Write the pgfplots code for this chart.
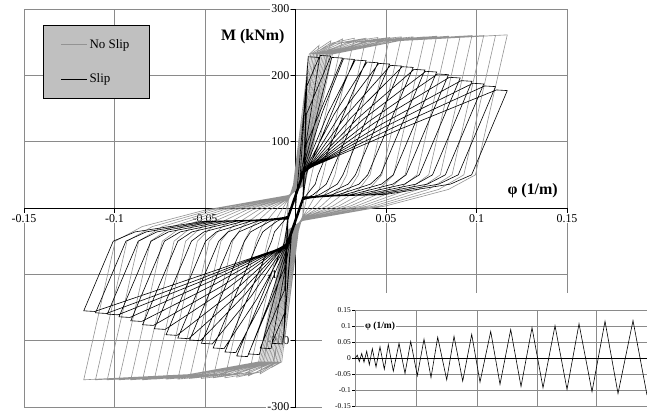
\documentclass[border=0pt]{standalone}
\usepackage{pgfplots}
\pgfplotsset{compat=1.18}
\usepackage{fontspec}
\setmainfont{Liberation Serif}
\definecolor{noslip}{HTML}{939393}
\definecolor{legfill}{HTML}{C0C0C0}
\definecolor{gridc}{HTML}{8A8A8A}
\begin{document}
\begin{tikzpicture}[x=1bp,y=1bp]
\begin{axis}[
  at={(0,0)}, anchor=south west,
  scale only axis, width=543bp, height=398bp,
  set layers=standard,
  xmin=-0.15, xmax=0.15, ymin=-300, ymax=300,
  axis lines=middle, axis line style={-, black, line width=0.8bp},
  enlargelimits=false, clip=false,
  xtick={-0.15,-0.1,-0.05,0,0.05,0.1,0.15},
  xticklabels={-0.15,-0.1,-0.05,,0.05,0.1,0.15},
  ytick={-300,-200,-100,0,100,200,300},
  yticklabels={-300,-200,-100,,100,200,300},
  grid=major, grid style={draw=gridc, line width=0.7bp},
  tick align=outside, major tick length=5bp,
  tick style={black, line width=0.7bp},
  tick label style={font=\fontsize{12}{14}\selectfont, fill=white, inner sep=1bp},
  legend style={at={(axis cs:-0.1395,276)}, anchor=north west, draw=black, line width=0.8bp,
    fill=legfill, font=\fontsize{13}{15}\selectfont, inner xsep=17.5bp, inner ysep=12bp,
    row sep=20bp, nodes={inner sep=2bp}},
  legend cell align=left,
  legend image code/.code={\draw[#1] (0bp,0bp) -- (26bp,0bp);},
]
\addplot[noslip, line width=0.6bp, mark=none] coordinates {
(0,0) (0.0065,215)
(0.004,-11) (0.0016,-35) (-0.0065,-210)
(-0.004,11) (-0.0012,35) (0.0076,232) (0.013,245)
(0.006,161) (0.004,-11) (0.0012,-35) (-0.0076,-232) (-0.013,-240)
(-0.006,-156) (-0.004,11) (-0.0008,35) (0.0084,232) (0.0195,252)
(0.006,90) (0.004,-12) (0.0008,-35) (-0.0084,-232) (-0.0195,-250)
(-0.006,-88) (-0.004,12) (-0.0004,35) (0.0092,232) (0.026,255)
(0.0089,50) (0.004,-12) (0.0004,-35) (-0.0092,-232) (-0.026,-253)
(-0.0091,-50) (-0.004,12) (0,35) (0.01,232) (0.019,248) (0.0325,256)
(0.0153,50) (0.013,28) (0.0077,3) (0.004,-13) (0,-35) (-0.01,-232) (-0.019,-247) (-0.0325,-255)
(-0.0154,-50) (-0.0131,-28) (-0.0077,-3) (-0.004,13) (0.0004,35) (0.0108,232) (0.0221,248) (0.039,256)
(0.0218,50) (0.0185,28) (0.0109,3) (0.004,-13) (-0.0004,-35) (-0.0108,-232) (-0.0221,-248) (-0.039,-256)
(-0.0218,-50) (-0.0185,-28) (-0.0109,-3) (-0.004,13) (0.0008,35) (0.0116,232) (0.0252,249) (0.0455,257)
(0.0283,50) (0.0241,28) (0.0142,3) (0.004,-14) (-0.0008,-35) (-0.0116,-232) (-0.0252,-248) (-0.0455,-256)
(-0.0283,-50) (-0.0241,-28) (-0.0142,-3) (-0.004,14) (0.0012,35) (0.0124,232) (0.0282,249) (0.052,257)
(0.0348,50) (0.0296,28) (0.0174,3) (0.004,-14) (-0.0012,-35) (-0.0124,-232) (-0.0282,-249) (-0.052,-257)
(-0.0347,-50) (-0.0295,-28) (-0.0174,-3) (-0.004,14) (0.0016,35) (0.0132,232) (0.0313,250) (0.0585,258)
(0.0412,50) (0.035,28) (0.0206,3) (0.004,-15) (-0.0016,-35) (-0.0132,-232) (-0.0313,-249) (-0.0585,-257)
(-0.0412,-50) (-0.035,-28) (-0.0206,-3) (-0.004,15) (0.002,35) (0.014,232) (0.0344,250) (0.065,258)
(0.0477,50) (0.0405,28) (0.0239,3) (0.004,-15) (-0.002,-35) (-0.014,-232) (-0.0344,-250) (-0.065,-258)
(-0.0477,-50) (-0.0405,-28) (-0.0239,-3) (-0.004,15) (0.0024,35) (0.0148,232) (0.0375,250) (0.0715,258)
(0.0542,50) (0.0461,28) (0.0271,3) (0.004,-16) (-0.0024,-35) (-0.0148,-232) (-0.0375,-250) (-0.0715,-258)
(-0.0542,-50) (-0.0461,-28) (-0.0271,-3) (-0.004,16) (0.0028,35) (0.0156,232) (0.0406,251) (0.078,259)
(0.0606,50) (0.0515,28) (0.0303,3) (0.004,-16) (-0.0028,-35) (-0.0156,-232) (-0.0406,-250) (-0.078,-258)
(-0.0607,-50) (-0.0516,-28) (-0.0304,-3) (-0.004,16) (0.0032,35) (0.0164,232) (0.0436,251) (0.0845,259)
(0.0671,50) (0.057,28) (0.0336,3) (0.004,-17) (-0.0032,-35) (-0.0164,-232) (-0.0436,-251) (-0.0845,-259)
(-0.0671,-50) (-0.057,-28) (-0.0336,-3) (-0.004,17) (0.0036,35) (0.0172,232) (0.0467,251) (0.091,259)
(0.0736,50) (0.0626,28) (0.0368,3) (0.004,-17) (-0.0036,-35) (-0.0172,-232) (-0.0467,-251) (-0.091,-259)
(-0.0736,-50) (-0.0626,-28) (-0.0368,-3) (-0.004,17) (0.004,35) (0.018,232) (0.0498,252) (0.0975,260)
(0.08,50) (0.068,28) (0.04,3) (0.004,-18) (-0.004,-35) (-0.018,-232) (-0.0498,-251) (-0.0975,-259)
(-0.0801,-50) (-0.0681,-28) (-0.0401,-3) (-0.004,18) (0.0044,35) (0.0188,232) (0.0529,252) (0.104,260)
(0.0865,50) (0.0735,28) (0.0433,3) (0.004,-18) (-0.0044,-35) (-0.0188,-232) (-0.0529,-251) (-0.104,-259)
(-0.0866,-50) (-0.0736,-28) (-0.0433,-3) (-0.004,18) (0.0048,35) (0.0196,232) (0.056,252) (0.1105,260)
(0.093,50) (0.0791,28) (0.0465,3) (0.004,-19) (-0.0048,-35) (-0.0196,-232) (-0.056,-251) (-0.1105,-259)
(-0.0931,-50) (-0.0791,-28) (-0.0466,-3) (-0.004,19) (0.0052,35) (0.0204,232) (0.059,253) (0.117,261)
(0.0994,50) (0.0845,28) (0.0497,3) (0.004,-19) (-0.0052,-35) (-0.0204,-232) (-0.059,-251) (-0.117,-259)
(-0.0996,-50) (-0.0847,-28) (-0.0498,-3) (-0.004,19)
};
\addlegendentry{No Slip}
\addplot[black, line width=0.6bp, mark=none] coordinates {
(0,0) (0.0065,205)
(0.004,9) (-0.0022,-41) (-0.0065,-195)
(-0.004,-9) (0.0024,42) (0.007,228) (0.013,227)
(0.006,182) (0.004,9) (-0.0024,-42) (-0.007,-205) (-0.013,-204)
(-0.006,-158) (-0.004,-9) (0.0026,43) (0.0135,230) (0.0195,229)
(0.006,141) (0.004,10) (-0.0026,-43) (-0.0135,-212) (-0.0195,-211)
(-0.006,-123) (-0.004,-10) (0.0028,44) (0.02,227) (0.026,226)
(0.006,96) (0.004,10) (-0.0028,-44) (-0.02,-221) (-0.026,-220)
(-0.006,-90) (-0.004,-10) (0.003,45) (0.0148,144) (0.0265,225) (0.0325,224)
(0.006,52) (0.004,11) (-0.003,-45) (-0.0148,-143) (-0.0265,-224) (-0.0325,-223)
(-0.006,-51) (-0.004,-11) (0.0032,46) (0.018,143) (0.033,223) (0.039,222)
(0.0124,50) (0.0109,36) (0.0062,20) (0.004,11) (-0.0032,-46) (-0.018,-140) (-0.033,-218) (-0.039,-217)
(-0.0132,-50) (-0.0116,-36) (-0.0066,-20) (-0.004,-11) (0.0034,47) (0.0213,141) (0.0395,220) (0.0455,219)
(0.0193,50) (0.017,36) (0.0097,20) (0.004,12) (-0.0034,-47) (-0.0213,-137) (-0.0395,-212) (-0.0455,-211)
(-0.0206,-50) (-0.0181,-36) (-0.0103,-20) (-0.004,-12) (0.0036,48) (0.0245,140) (0.046,218) (0.052,217)
(0.0262,50) (0.0231,36) (0.0131,20) (0.004,12) (-0.0036,-48) (-0.0245,-133) (-0.046,-205) (-0.052,-204)
(-0.0282,-50) (-0.0248,-36) (-0.0141,-20) (-0.004,-12) (0.0038,49) (0.0278,139) (0.0525,215) (0.0585,214)
(0.0331,50) (0.0291,36) (0.0166,20) (0.004,13) (-0.0038,-49) (-0.0278,-130) (-0.0525,-200) (-0.0585,-199)
(-0.0354,-50) (-0.0312,-36) (-0.0177,-20) (-0.004,-13) (0.004,50) (0.031,137) (0.059,213) (0.065,212)
(0.0399,50) (0.0351,36) (0.02,20) (0.004,13) (-0.004,-50) (-0.031,-129) (-0.059,-197) (-0.065,-196)
(-0.0424,-50) (-0.0373,-36) (-0.0212,-20) (-0.004,-13) (0.0042,51) (0.0343,135) (0.0655,209) (0.0715,208)
(0.047,50) (0.0414,36) (0.0235,20) (0.004,14) (-0.0042,-51) (-0.0343,-126) (-0.0655,-192) (-0.0715,-191)
(-0.0497,-50) (-0.0437,-36) (-0.0249,-20) (-0.004,-14) (0.0044,52) (0.0375,134) (0.072,206) (0.078,205)
(0.054,50) (0.0475,36) (0.027,20) (0.004,14) (-0.0044,-52) (-0.0375,-121) (-0.072,-183) (-0.078,-182)
(-0.0575,-50) (-0.0506,-36) (-0.0288,-20) (-0.004,-14) (0.0046,53) (0.0408,131) (0.0785,202) (0.0845,201)
(0.0611,50) (0.0538,36) (0.0306,20) (0.004,15) (-0.0046,-53) (-0.0408,-118) (-0.0785,-177) (-0.0845,-176)
(-0.065,-50) (-0.0572,-36) (-0.0325,-20) (-0.004,-15) (0.0048,54) (0.044,129) (0.085,197) (0.091,196)
(0.0684,50) (0.0602,36) (0.0342,20) (0.004,15) (-0.0048,-54) (-0.044,-114) (-0.085,-171) (-0.091,-170)
(-0.0724,-50) (-0.0637,-36) (-0.0362,-20) (-0.004,-15) (0.005,55) (0.0473,126) (0.0915,192) (0.0975,191)
(0.0757,50) (0.0666,36) (0.0379,20) (0.004,16) (-0.005,-55) (-0.0473,-111) (-0.0915,-165) (-0.0975,-164)
(-0.0798,-50) (-0.0702,-36) (-0.0399,-20) (-0.004,-16) (0.0052,56) (0.0505,124) (0.098,188) (0.104,187)
(0.0828,50) (0.0729,36) (0.0414,20) (0.004,16) (-0.0052,-56) (-0.0505,-109) (-0.098,-161) (-0.104,-160)
(-0.0869,-50) (-0.0765,-36) (-0.0435,-20) (-0.004,-16) (0.0054,57) (0.0538,121) (0.1045,184) (0.1105,183)
(0.0899,50) (0.0791,36) (0.045,20) (0.004,17) (-0.0054,-57) (-0.0538,-108) (-0.1045,-159) (-0.1105,-158)
(-0.0937,-50) (-0.0825,-36) (-0.0469,-20) (-0.004,-17) (0.0056,58) (0.057,118) (0.111,178) (0.117,177)
(0.0973,50) (0.0856,36) (0.0487,20) (0.004,17) (-0.0056,-58) (-0.057,-106) (-0.111,-156) (-0.117,-155)
(-0.1007,-50) (-0.0886,-36) (-0.0504,-20) (-0.004,-17)
};
\addlegendentry{Slip}
\node[anchor=base east, inner sep=0pt, font=\bfseries\fontsize{16}{18}\selectfont] at (axis cs:-0.006,253) {M (kNm)};
\node[anchor=base east, inner sep=0pt, font=\bfseries\fontsize{16}{18}\selectfont] at (axis cs:0.145,21) {φ (1/m)};
\end{axis}
\fill[white] (298,-6) rectangle (630,114);
\begin{axis}[
  at={(331,2)}, anchor=south west,
  scale only axis, width=295bp, height=96bp,
  xmin=0, xmax=295, ymin=-0.15, ymax=0.15,
  xtick={0,61,122,182,241}, xticklabels={},
  ytick={-0.15,-0.1,-0.05,0,0.05,0.1,0.15},
  yticklabels={-0.15,-0.1,-0.05,0,0.05,0.1,0.15},
  grid=major, grid style={draw=gridc, line width=0.6bp},
  axis line style={gridc, line width=0.6bp},
  tick align=outside, major tick length=3bp,
  xtick style={draw=none}, ytick style={black, line width=0.5bp},
  tick label style={font=\fontsize{7.5}{9}\selectfont, inner sep=1bp},
  extra y ticks={0}, extra y tick labels={},
  extra y tick style={grid style={draw=black, line width=0.9bp}, tick style={draw=none}},
  clip=false,
]
\addplot[black, line width=0.6bp, mark=none] coordinates {
(0,0) (2.3,0.01) (4.3,-0.01) (6.7,0.015) (9,-0.012) (11.7,0.022) (14.3,-0.02) (17.3,0.03) (21,-0.027) (25,0.036) (29.3,-0.034) (33.3,0.043) (38.3,-0.04) (44,0.047) (50,-0.047) (55.7,0.053) (62.3,-0.054) (69,0.06) (76,-0.06) (82.7,0.066) (91.7,-0.067) (99,0.069) (107.7,-0.071) (116.7,0.075) (125,-0.074) (135.7,0.084) (145,-0.081) (155.7,0.09) (166,-0.088) (177,0.096) (188,-0.092) (200,0.102) (212,-0.097) (224,0.108) (237,-0.104) (250,0.116) (263,-0.11) (278,0.118) (292,-0.115)
};
\node[anchor=west, fill=white, inner sep=1bp, font=\bfseries\fontsize{9.5}{11}\selectfont] at (axis cs:9,0.1) {φ (1/m)};
\end{axis}
\pgfresetboundingbox
\useasboundingbox (-24,-5) rectangle (623,407);
\end{tikzpicture}
\end{document}
